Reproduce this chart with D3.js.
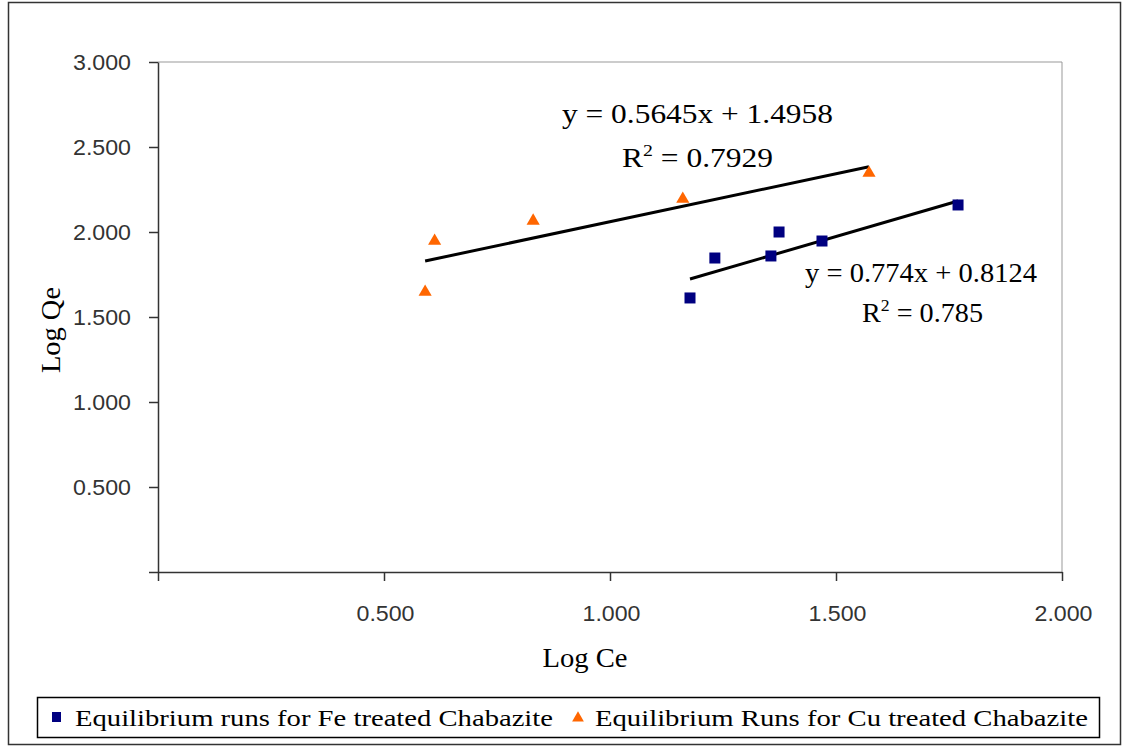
<!DOCTYPE html>
<html><head><meta charset="utf-8">
<script src="https://cdn.jsdelivr.net/npm/d3@7"></script>
<style>body{margin:0;background:#fff}</style>
</head><body>
<svg id="c" width="1131" height="748"></svg>
<script>
const feX = [1.177, 1.232, 1.356, 1.374, 1.469, 1.770];
const feY = [1.612, 1.847, 1.859, 2.000, 1.947, 2.159];
const cuX = [0.591, 0.612, 0.830, 1.161, 1.573];
const cuY = [1.647, 1.947, 2.065, 2.194, 2.347];
const xTicks = [0.5, 1.0, 1.5, 2.0];
const yTicks = [0.5, 1.0, 1.5, 2.0, 2.5, 3.0];
const feFit = {slope: 0.774, intercept: 0.8124, eq: "y = 0.774x + 0.8124", r2: "0.785"};
const cuFit = {slope: 0.5645, intercept: 1.4958, eq: "y = 0.5645x + 1.4958", r2: "0.7929"};
const legendLabels = ["Equilibrium runs for Fe treated Chabazite", "Equilibrium Runs for Cu treated Chabazite"];

const svg = d3.select("#c");
const L = 158, R = 1062, T = 62, B = 572;
const x = d3.scaleLinear().domain([0, 2]).range([L, R]);
const y = d3.scaleLinear().domain([0, 3]).range([B, T]);
const serif = "'Liberation Serif', 'Times New Roman', serif";

// outer frame
svg.append("rect").attr("x", 8.5).attr("y", 2.5).attr("width", 1112).attr("height", 742)
  .attr("fill", "none").attr("stroke", "#333").attr("stroke-width", 1.5);

// plot area border (top/right grey)
svg.append("path").attr("d", `M${L},${T}H${R}V${B}`).attr("fill", "none").attr("stroke", "#999").attr("stroke-width", 1);

const tickFont = "'Liberation Sans', Arial, sans-serif";
// axes
const gx = svg.append("g").attr("transform", `translate(0,${B})`)
  .call(d3.axisBottom(x).tickValues([0, ...xTicks]).tickSize(9).tickSizeOuter(0)
    .tickFormat(d => d === 0 ? "" : d3.format(".3f")(d)));
const gy = svg.append("g").attr("transform", `translate(${L},0)`)
  .call(d3.axisLeft(y).tickValues([0, ...yTicks]).tickSize(9).tickSizeOuter(0)
    .tickFormat(d => d === 0 ? "" : d3.format(".3f")(d)));
[gx, gy].forEach(g => {
  g.select(".domain").attr("stroke", "#333").attr("stroke-width", 1.5);
  g.selectAll(".tick line").attr("stroke", "#333").attr("stroke-width", 1.5);
  g.selectAll(".tick text").attr("font-family", tickFont).attr("font-size", 22).attr("fill", "#333")
    .attr("textLength", 58).attr("lengthAdjust", "spacingAndGlyphs");
});
gx.selectAll(".tick text").attr("y", 0).attr("dy", 0).attr("transform", "translate(1,49)");
gy.selectAll(".tick text").attr("x", -27).attr("dy", "0.36em");

// axis titles
svg.append("text").attr("x", 585).attr("y", 667).attr("text-anchor", "middle")
  .attr("font-family", serif).attr("font-size", 28).attr("textLength", 85).attr("lengthAdjust", "spacingAndGlyphs").text("Log Ce");
svg.append("text").attr("transform", "translate(60,330) rotate(-90)").attr("text-anchor", "middle")
  .attr("font-family", serif).attr("font-size", 28).attr("textLength", 86).attr("lengthAdjust", "spacingAndGlyphs").text("Log Qe");

// trend lines
function trend(xs, fit) {
  const x0 = d3.min(xs), x1 = d3.max(xs);
  svg.append("line").attr("x1", x(x0)).attr("y1", y(fit.slope * x0 + fit.intercept))
    .attr("x2", x(x1)).attr("y2", y(fit.slope * x1 + fit.intercept))
    .attr("stroke", "#000").attr("stroke-width", 3);
}
trend(cuX, cuFit);
trend(feX, feFit);

// points
const tri = d3.symbol().type(d3.symbolTriangle).size(75);
svg.append("g").selectAll("path").data(cuX.map((v, i) => [v, cuY[i]])).join("path")
  .attr("d", tri).attr("transform", d => `translate(${x(d[0])},${y(d[1])})`).attr("fill", "#FF6600");
svg.append("g").selectAll("rect").data(feX.map((v, i) => [v, feY[i]])).join("rect")
  .attr("x", d => x(d[0]) - 5.5).attr("y", d => y(d[1]) - 5.5).attr("width", 11).attr("height", 11).attr("fill", "#000080");

// equations
function eqn(x0, x1, base1, rx0, rx1, base2, fit) {
  const g = svg.append("g").attr("font-family", serif).attr("font-size", 27).attr("fill", "#000");
  g.append("text").attr("x", x0).attr("y", base1).attr("textLength", x1 - x0).attr("lengthAdjust", "spacingAndGlyphs").text(fit.eq);
  const t = g.append("text").attr("x", rx0).attr("y", base2).attr("textLength", rx1 - rx0).attr("lengthAdjust", "spacingAndGlyphs");
  t.append("tspan").text("R");
  t.append("tspan").attr("font-size", 17).attr("dy", -11).text("2");
  t.append("tspan").attr("dy", 11).text(" = " + fit.r2);
}
eqn(562, 833, 123, 622, 773, 167, cuFit);
eqn(805, 1037, 282, 862, 983, 322, feFit);

// legend
svg.append("rect").attr("x", 37.5).attr("y", 697.5).attr("width", 1062).attr("height", 40)
  .attr("fill", "#fff").attr("stroke", "#000").attr("stroke-width", 1.5);
const lg = svg.append("g").attr("font-family", serif).attr("font-size", 24);
lg.append("rect").attr("x", 52).attr("y", 712).attr("width", 9).attr("height", 10).attr("fill", "#000080");
lg.append("text").attr("x", 75).attr("y", 726).attr("textLength", 478).attr("lengthAdjust", "spacingAndGlyphs").text(legendLabels[0]);
lg.append("path").attr("d", d3.symbol().type(d3.symbolTriangle).size(60)).attr("transform", "translate(578,718)").attr("fill", "#FF6600");
lg.append("text").attr("x", 595).attr("y", 726).attr("textLength", 493).attr("lengthAdjust", "spacingAndGlyphs").text(legendLabels[1]);
</script>
</body></html>
